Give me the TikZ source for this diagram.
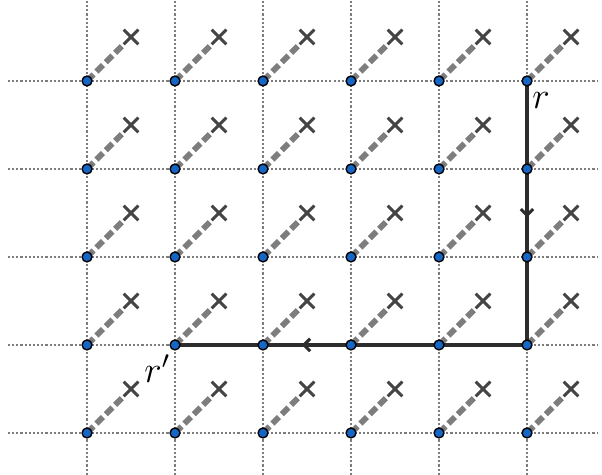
\documentclass[tikz,border=0pt]{standalone}
\usepackage{amsmath, amssymb}
\usepackage{tikz}
\usetikzlibrary{arrows.meta, positioning, calc, shapes.misc, decorations.markings}
\usepackage{xcolor}
\definecolor{siteblue}{RGB}{22,102,198}
\definecolor{bondgray}{RGB}{125,125,125}
\definecolor{crossgray}{RGB}{68,68,68}
\definecolor{gridgray}{RGB}{125,125,125}
\definecolor{pathgray}{RGB}{45,45,45}

\tikzset{
  gridline/.style={gridgray, line width=0.8pt, dash pattern=on 0.7pt off 0.65pt},
  bond/.style={bondgray, line width=1.9pt, dash pattern=on 3pt off 1.3pt},
  cross/.style={cross out, draw=crossgray, line width=0.95pt, minimum size=3.8pt, inner sep=0pt},
  site/.style={circle, draw=black, fill=siteblue, line width=0.45pt, inner sep=0pt, minimum size=3.2pt},
  walk/.style={pathgray, line width=1pt},
  tipat/.style={postaction={decorate}, decoration={markings,
      mark=at position #1 with {\arrow{Straight Barb[length=2pt, width=4pt]}}}},
}

\begin{document}
\begin{tikzpicture}
  \useasboundingbox (-0.989,-0.477) rectangle (5.852,4.92);

  % Lattice sites
  \foreach \i in {0,...,5}
    \foreach \j in {0,...,4}
      \coordinate (c-\i-\j) at (\i,\j);

  % Dotted grid
  \foreach \i in {0,...,5}
    \draw[gridline] (\i,-0.477) -- (\i,4.92);
  \foreach \j in {0,...,4}
    \draw[gridline] (-0.9,\j) -- (5.81,\j);

  % Bonds to the crossed-out partners
  \foreach \i in {0,...,5}
    \foreach \j in {0,...,4} {
      \node[cross] (x-\i-\j) at ($(c-\i-\j)+(0.5,0.5)$) {};
      \draw[bond] (c-\i-\j) -- (x-\i-\j);
    }

  % Path from r to r'
  \draw[walk, tipat=0.517] (c-5-4) -- (c-5-1);
  \draw[walk, tipat=0.64] (c-5-1) -- (c-1-1);

  % Sites on top
  \foreach \i in {0,...,5}
    \foreach \j in {0,...,4}
      \node[site] (p-\i-\j) at (c-\i-\j) {};

  % Labels
  \node[font=\large] (r) at ($(p-5-4)+(0.16,-0.22)$) {$r$};
  \node[font=\large] (rp) at ($(p-1-1)+(-0.2,-0.27)$) {$r'$};
\end{tikzpicture}
\end{document}
